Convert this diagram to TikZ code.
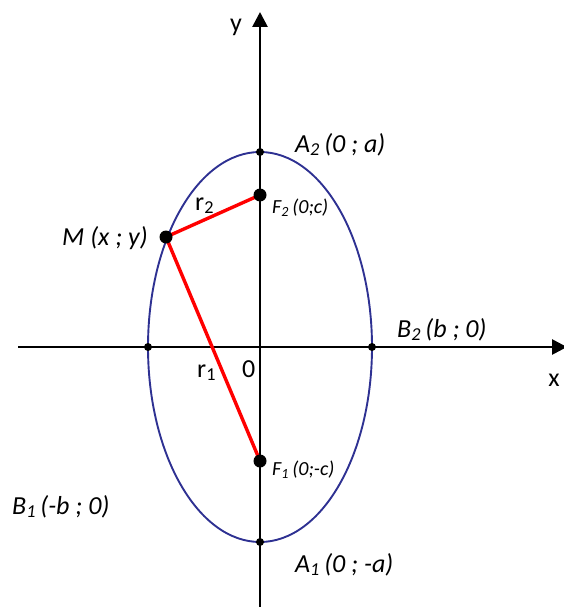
\documentclass[tikz,border=0pt]{standalone}
\usepackage{fontspec}
\setmainfont{Carlito}
\usetikzlibrary{arrows.meta}
\definecolor{ellblue}{RGB}{46,49,146}
\definecolor{segred}{RGB}{255,0,0}
\tikzset{
  axisline/.style={line width=2.7pt, -{Triangle[length=15pt,width=15pt]}},
  ellline/.style={line width=1.9pt, draw=ellblue},
  segline/.style={line width=3.4pt, draw=segred},
  bigdot/.style={circle, fill=black, inner sep=0pt, minimum size=13pt},
  smalldot/.style={circle, fill=black, inner sep=0pt, minimum size=8pt},
  lbl/.style={inner sep=0pt, anchor=base west, font=\fontsize{26}{30}\selectfont\itshape},
  flbl/.style={inner sep=0pt, anchor=base west, font=\fontsize{20}{24}\selectfont\itshape},
  axlbl/.style={inner sep=0pt, font=\fontsize{26}{30}\selectfont},
}
\begin{document}
\begin{tikzpicture}[x=1pt,y=-1pt]
\useasboundingbox (0,0) rectangle (563,607);
% axes
\coordinate (xs) at (18,347);
\coordinate (xe) at (567,347);
\coordinate (ys) at (260,610);
\coordinate (ye) at (260,12);
\draw[axisline] (xs) -- (xe);
\draw[axisline] (ys) -- (ye);
% ellipse
\coordinate (O) at (260,347);
\draw[ellline] (O) ellipse [x radius=112, y radius=195];
% points
\node[smalldot] (A2) at (260,152) {};
\node[smalldot] (A1) at (260,542) {};
\node[smalldot] (B1) at (148,347) {};
\node[smalldot] (B2) at (372,347) {};
\coordinate (Mc) at (166,237);
\coordinate (F2c) at (260,195);
\coordinate (F1c) at (260,461);
\draw[segline] (Mc) -- (F2c);
\draw[segline] (Mc) -- (F1c);
\node[bigdot] (M) at (Mc) {};
\node[bigdot] (F2) at (F2c) {};
\node[bigdot] (F1) at (F1c) {};
% labels
\node[axlbl] (ylab) at (236,27) {y};
\node[axlbl] (xlab) at (554,380) {x};
\node[lbl] (A2l) at (295,152) {A\textsubscript{2}\,(0 ; a)};
\node[flbl] (F2l) at (272,213) {F\textsubscript{2}\,(0;c)};
\node[lbl] (Ml) at (62,245) {M (x ; y)};
\node[axlbl, anchor=base west] (r2l) at (195,210) {r\textsubscript{2}};
\node[lbl] (B2l) at (397,337) {B\textsubscript{2}\,(b ; 0)};
\node[axlbl, anchor=base west] (r1l) at (197,377) {r\textsubscript{1}};
\node[axlbl, anchor=base west] (zero) at (242,377) {0};
\node[flbl] (F1l) at (272,475) {F\textsubscript{1}\,(0;-c)};
\node[lbl] (B1l) at (12,514) {B\textsubscript{1}\,(-b ; 0)};
\node[lbl] (A1l) at (295,572) {A\textsubscript{1}\,(0 ; -a)};
\end{tikzpicture}
\end{document}
